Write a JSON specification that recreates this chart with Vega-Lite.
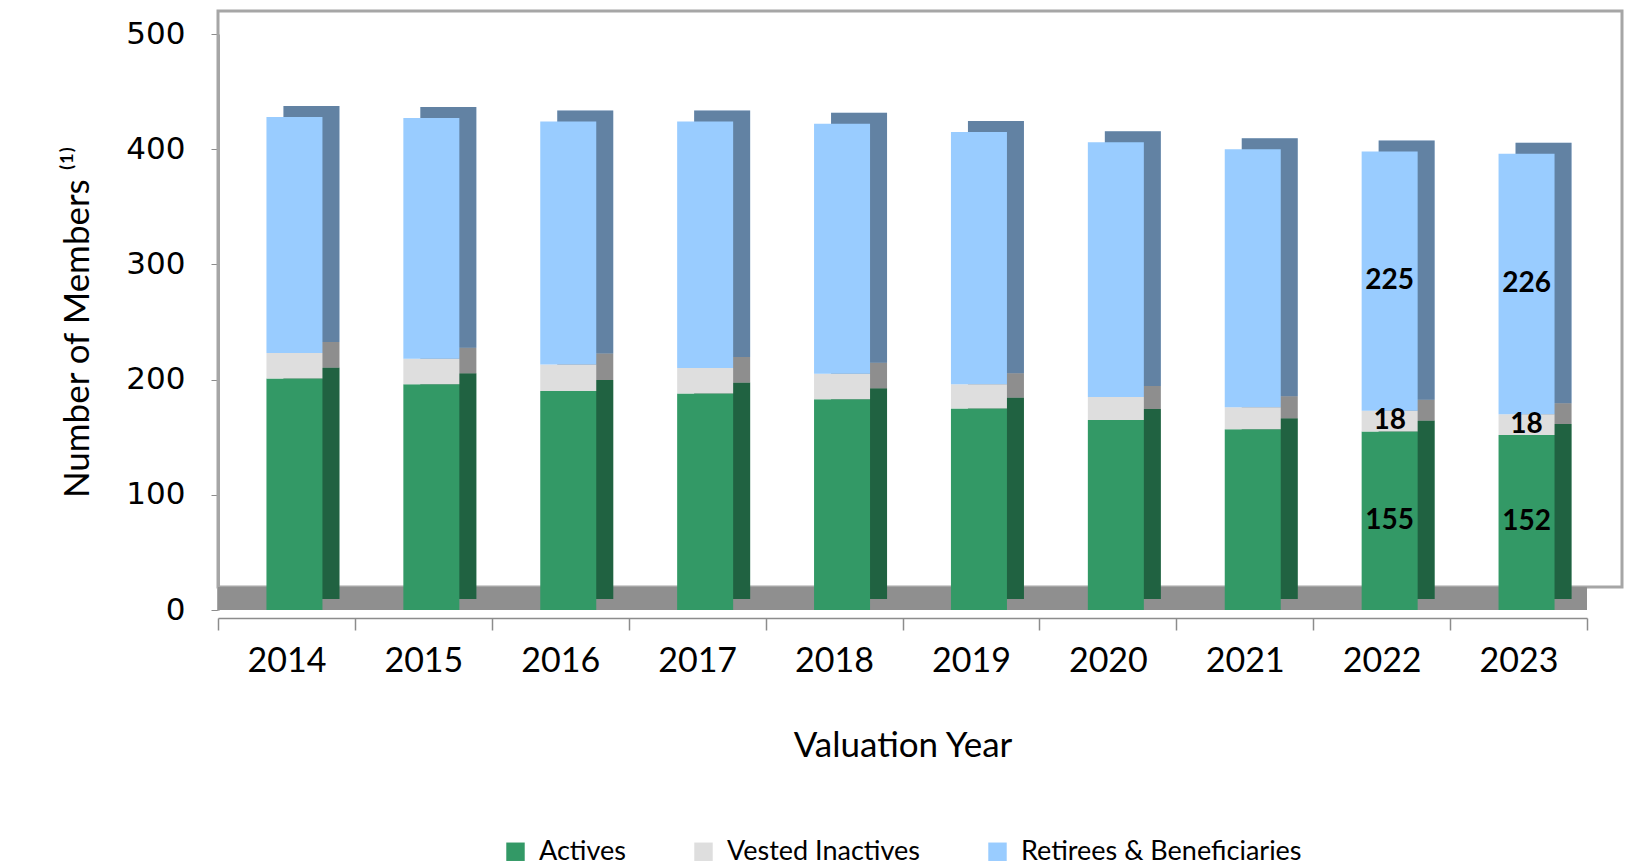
{
  "$schema": "https://vega.github.io/schema/vega-lite/v6.json",
  "autosize": {"type": "none"},
  "width": 1369,
  "height": 576,
  "padding": {"left": 218, "top": 34, "right": 41, "bottom": 255},
  "background": "white",
  "config": {"view": {"stroke": null}},
  "data": {"values": [
    {"year": "2014", "series": "Actives", "k": 1, "members": 201},
    {"year": "2014", "series": "Vested Inactives", "k": 2, "members": 22},
    {"year": "2014", "series": "Retirees & Beneficiaries", "k": 3, "members": 205},
    {"year": "2015", "series": "Actives", "k": 1, "members": 196},
    {"year": "2015", "series": "Vested Inactives", "k": 2, "members": 22},
    {"year": "2015", "series": "Retirees & Beneficiaries", "k": 3, "members": 209},
    {"year": "2016", "series": "Actives", "k": 1, "members": 190},
    {"year": "2016", "series": "Vested Inactives", "k": 2, "members": 23},
    {"year": "2016", "series": "Retirees & Beneficiaries", "k": 3, "members": 211},
    {"year": "2017", "series": "Actives", "k": 1, "members": 188},
    {"year": "2017", "series": "Vested Inactives", "k": 2, "members": 22},
    {"year": "2017", "series": "Retirees & Beneficiaries", "k": 3, "members": 214},
    {"year": "2018", "series": "Actives", "k": 1, "members": 183},
    {"year": "2018", "series": "Vested Inactives", "k": 2, "members": 22},
    {"year": "2018", "series": "Retirees & Beneficiaries", "k": 3, "members": 217},
    {"year": "2019", "series": "Actives", "k": 1, "members": 175},
    {"year": "2019", "series": "Vested Inactives", "k": 2, "members": 21},
    {"year": "2019", "series": "Retirees & Beneficiaries", "k": 3, "members": 219},
    {"year": "2020", "series": "Actives", "k": 1, "members": 165},
    {"year": "2020", "series": "Vested Inactives", "k": 2, "members": 20},
    {"year": "2020", "series": "Retirees & Beneficiaries", "k": 3, "members": 221},
    {"year": "2021", "series": "Actives", "k": 1, "members": 157},
    {"year": "2021", "series": "Vested Inactives", "k": 2, "members": 19},
    {"year": "2021", "series": "Retirees & Beneficiaries", "k": 3, "members": 224},
    {"year": "2022", "series": "Actives", "k": 1, "members": 155},
    {"year": "2022", "series": "Vested Inactives", "k": 2, "members": 18},
    {"year": "2022", "series": "Retirees & Beneficiaries", "k": 3, "members": 225},
    {"year": "2023", "series": "Actives", "k": 1, "members": 152},
    {"year": "2023", "series": "Vested Inactives", "k": 2, "members": 18},
    {"year": "2023", "series": "Retirees & Beneficiaries", "k": 3, "members": 226}
  ]},
  "encoding": {
    "x": {
      "field": "year", "type": "ordinal",
      "scale": {"paddingInner": 0, "paddingOuter": 0},
      "axis": {
        "title": "Valuation Year",
        "titleFont": "Lato",
        "titleFontSize": 35,
        "titleFontWeight": "normal",
        "titleColor": "black",
        "titlePadding": 50,
        "labelAngle": 0,
        "labelFont": "Lato",
        "labelFontSize": 34,
        "labelColor": "black",
        "labelPadding": 14,
        "tickBand": "extent",
        "tickSize": 12,
        "tickColor": "#8c8c8c",
        "tickWidth": 1.5,
        "domainColor": "#8c8c8c",
        "domainWidth": 1.5,
        "offset": 8
      }
    }
  },
  "layer": [
    {
      "data": {"values": [{"part": "wall"}]},
      "mark": {"type": "rect", "filled": false, "stroke": "#a6a6a6", "strokeWidth": 3, "xOffset": 35, "x2Offset": 35},
      "encoding": {
        "x": null,
        "y": {"datum": 20, "type": "quantitative", "scale": {"domain": [0, 500]}},
        "y2": {"datum": 520}
      }
    },
    {
      "data": {"values": [{"part": "floor"}]},
      "mark": {"type": "rect", "color": "#8f8f8f"},
      "encoding": {
        "x": null,
        "y": {"datum": 0, "type": "quantitative", "scale": {"domain": [0, 500]}},
        "y2": {"datum": 20}
      }
    },
    {
      "mark": {"type": "bar", "width": 56, "xOffset": 25, "yOffset": -11},
      "encoding": {
        "y": {"field": "members", "type": "quantitative", "stack": "zero"},
        "order": {"field": "k"},
        "color": {"field": "series", "type": "nominal", "sort": ["Actives", "Vested Inactives", "Retirees & Beneficiaries"]}
      }
    },
    {
      "mark": {"type": "bar", "width": 56, "xOffset": 25, "yOffset": -11, "color": "black", "opacity": 0.36},
      "encoding": {
        "y": {"field": "members", "type": "quantitative", "stack": "zero"},
        "order": {"field": "k"},
        "detail": {"field": "series"}
      }
    },
    {
      "mark": {"type": "bar", "width": 56, "xOffset": 8},
      "encoding": {
        "y": {
          "field": "members", "type": "quantitative", "stack": "zero",
          "scale": {"domain": [0, 500]},
          "axis": {
            "values": [0, 100, 200, 300, 400, 500],
            "grid": false,
            "title": "Number of Members ⁽¹⁾",
            "titleFont": "Lato",
            "titleFontSize": 35,
            "titleFontWeight": "normal",
            "titleColor": "black",
            "titlePadding": 30,
            "labelFont": "DejaVu Sans",
            "labelFontSize": 31,
            "labelColor": "black",
            "labelPadding": 26,
            "tickSize": 7,
            "tickColor": "#8c8c8c",
            "domainColor": "#a6a6a6",
            "domainWidth": 3
          }
        },
        "order": {"field": "k"},
        "color": {
          "field": "series", "type": "nominal",
          "sort": ["Actives", "Vested Inactives", "Retirees & Beneficiaries"],
          "scale": {"domain": ["Actives", "Vested Inactives", "Retirees & Beneficiaries"], "range": ["#339966", "#dedede", "#99ccff"]},
          "legend": {
            "title": null,
            "orient": "none",
            "legendX": 284,
            "legendY": 804,
            "direction": "horizontal",
            "symbolType": "square",
            "symbolSize": 340,
            "symbolStrokeWidth": 0,
            "labelFont": "Lato",
            "labelFontSize": 27,
            "labelColor": "black",
            "labelLimit": 0,
            "columnPadding": 64,
            "labelOffset": 10
          }
        }
      }
    },
    {
      "transform": [
        {"stack": "members", "groupby": ["year"], "sort": [{"field": "k"}], "as": ["v0", "v1"]},
        {"calculate": "(datum.v0 + datum.v1) / 2", "as": "mid"},
        {"filter": "datum.year == '2022' || datum.year == '2023'"}
      ],
      "mark": {"type": "text", "xOffset": 8, "font": "Lato", "fontSize": 28, "fontWeight": "bold", "color": "black"},
      "encoding": {
        "y": {"field": "mid", "type": "quantitative"},
        "text": {"field": "members", "type": "quantitative"}
      }
    }
  ]
}
